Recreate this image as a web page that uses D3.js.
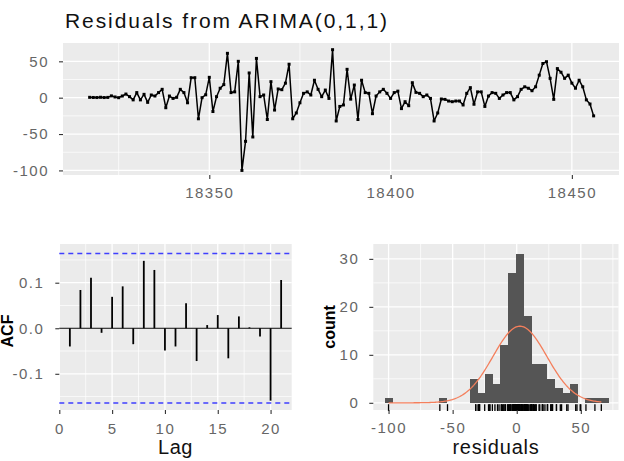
<!DOCTYPE html>
<html>
<head>
<meta charset="utf-8">
<script src="https://cdn.jsdelivr.net/npm/d3@7"></script>
<style>
body { margin: 0; background: #fff; }
svg { display: block; }
</style>
</head>
<body>
<div class="chart"></div>
<script>
// ---- data ----
const startDay = 18317;
const residuals = [
	0.5, 0.3, 0.2, 0.6, 0.2, 0.4, 2.5, 1, 0, 2.3,
	5, 1.4, -3, 7, -3, 4.6, -6.4, 3.7, 2.3, 7,
	11.5, -13.8, 2.3, -1, 0.5, 11.5, 7, -7, 27.5, 27.5,
	-29, 0, 4, 28, -19, 1.4, 13, 18, 61, 7,
	8, 50, -100, -60, 34, -54, 54, 1.4, 3.7, -30,
	22, -17, 12, 11, 20, 46, -29, -21, -7, 6,
	8, 3.7, 24, 11.5, 1.4, 10.5, -1, 66, -32, -12,
	-10, 39, -2, 17.4, -30, 24, 7, 6, -22, 2.3,
	8, 11.5, 6, -1, 7, 9, -15, -5.5, -11, 20.6,
	7.3, 6, 1.4, 3.7, -1, -32, -21, -1.8, -2.3, -4.6,
	-5.5, -4.6, -4.6, -10, 6, 13.8, -9, 8, 8, -12,
	2.3, 7, 6, -1, 3.7, 7, 7, -3, 1.4, 11.5,
	15, 13, 9.6, 15, 31, 47, 49.5, 26.6, -2.3, 40,
	35, 26.6, 31, 20, 13, 24, 15, -3, -8.7, -25
];
const acfLags = [1, 2, 3, 4, 5, 6, 7, 8, 9, 10, 11, 12, 13, 14, 15, 16, 17, 18, 19, 20, 21];
const acfValues = [-0.040, 0.084, 0.111, -0.010, 0.069, 0.092, -0.035, 0.148, 0.128, -0.049,
	-0.040, 0.055, -0.072, 0.007, 0.029, -0.066, 0.026, 0.002, -0.018, -0.159, 0.106];
const acfLimit = 0.164;
const binWidth = 6;
const binLower = [-102.5, -60.5, -36.5, -30.5, -24.5, -18.5, -12.5, -6.5, -0.5, 5.5,
	11.5, 17.5, 23.5, 29.5, 35.5, 41.5, 53.5, 59.5, 65.5];
const binCounts = [1, 1, 5, 2, 6, 4, 12, 27, 31, 18, 8, 8, 5, 3, 2, 4, 1, 1, 1];
const normMean = 2.5;
const normSd = 21;

const topXTicks = [18350, 18400, 18450];
const topXMinor = [18325, 18375, 18425];
const topYTicks = [-100, -50, 0, 50];
const topYMinor = [-75, -25, 25];
const acfXTicks = [0, 5, 10, 15, 20];
const acfXMinor = [2.5, 7.5, 12.5, 17.5];
const acfYTicks = [-0.1, 0, 0.1];
const acfYMinor = [-0.15, -0.05, 0.05, 0.15];
const histXTicks = [-100, -50, 0, 50];
const histXMinor = [-75, -25, 25, 75];
const histYTicks = [0, 10, 20, 30];
const histYMinor = [5, 15, 25];

// ---- layout ----
const W = 624, H = 461;
const font = "'Liberation Sans', Arial, sans-serif";
const tickColor = '#666';

const svg = d3.select('.chart')
	.append('svg')
		.attr('width', W)
		.attr('height', H)
		.style('font-family', font);

svg.append('rect').attr('width', W).attr('height', H).attr('fill', '#fff');

// grey panel + white grid, ggplot style
function panel(x, y, xMajor, xMinor, yMajor, yMinor) {
	const g = svg.append('g');
	const [x0, x1] = x.range();
	const [y1, y0] = y.range();
	g.append('rect')
		.attr('x', x0).attr('y', y0)
		.attr('width', x1 - x0).attr('height', y1 - y0)
		.attr('fill', '#ebebeb');
	g.selectAll('.vmin').data(xMinor).enter().append('line')
		.attr('x1', d => x(d)).attr('x2', d => x(d))
		.attr('y1', y0).attr('y2', y1)
		.attr('stroke', '#fff').attr('stroke-width', 0.7);
	g.selectAll('.hmin').data(yMinor).enter().append('line')
		.attr('x1', x0).attr('x2', x1)
		.attr('y1', d => y(d)).attr('y2', d => y(d))
		.attr('stroke', '#fff').attr('stroke-width', 0.7);
	g.selectAll('.vmaj').data(xMajor).enter().append('line')
		.attr('x1', d => x(d)).attr('x2', d => x(d))
		.attr('y1', y0).attr('y2', y1)
		.attr('stroke', '#fff').attr('stroke-width', 1.3);
	g.selectAll('.hmaj').data(yMajor).enter().append('line')
		.attr('x1', x0).attr('x2', x1)
		.attr('y1', d => y(d)).attr('y2', d => y(d))
		.attr('stroke', '#fff').attr('stroke-width', 1.3);
	return g;
}

function styleAxis(g) {
	g.select('.domain').remove();
	g.selectAll('.tick line').attr('stroke', '#333').attr('stroke-width', 1.1);
	g.selectAll('.tick text')
		.attr('fill', tickColor)
		.style('font-size', '15px')
		.style('letter-spacing', '1.5px')
		.style('font-family', font);
}

function axes(x, y, xTicks, yTicks, fmt, xPad, yPad) {
	const [y1] = y.range();
	const [x0] = x.range();
	svg.append('g')
		.attr('transform', `translate(0, ${y1})`)
		.call(d3.axisBottom(x).tickValues(xTicks).tickSize(4).tickSizeOuter(0)
			.tickPadding(xPad).tickFormat(d => String(d)))
		.call(styleAxis);
	svg.append('g')
		.attr('transform', `translate(${x0}, 0)`)
		.call(d3.axisLeft(y).tickValues(yTicks).tickSize(4).tickSizeOuter(0)
			.tickPadding(yPad).tickFormat(fmt))
		.call(styleAxis);
}

// ---- top: residual series ----
const xTop = d3.scaleLinear().domain([18309.65, 18463.0]).range([63, 619]);
const yTop = d3.scaleLinear().domain([-106.3, 75.2]).range([175, 43]);
panel(xTop, yTop, topXTicks, topXMinor, topYTicks, topYMinor);

const line = d3.line()
	.x((d, i) => xTop(startDay + i))
	.y(d => yTop(d));

svg.append('path')
	.datum(residuals)
	.attr('d', line)
	.attr('fill', 'none')
	.attr('stroke', '#000')
	.attr('stroke-width', 1.5)
	.attr('stroke-linejoin', 'round');

svg.selectAll('.pt')
	.data(residuals)
	.enter()
	.append('rect')
	.attr('x', (d, i) => xTop(startDay + i) - 1.5)
	.attr('y', d => yTop(d) - 1.5)
	.attr('width', 3)
	.attr('height', 3)
	.attr('fill', '#000');

axes(xTop, yTop, topXTicks, topYTicks, d => String(d), 8, 10);

svg.append('text')
	.attr('x', 65)
	.attr('y', 28)
	.attr('textLength', 322)
	.attr('lengthAdjust', 'spacing')
	.style('font-size', '21px')
	.attr('fill', '#111')
	.text('Residuals from ARIMA(0,1,1)');

// ---- bottom left: ACF ----
const xAcf = d3.scaleLinear().domain([0, 22]).range([59.3, 291.7]);
const yAcf = d3.scaleLinear().domain([-0.1795, 0.185]).range([410, 244]);
panel(xAcf, yAcf, acfXTicks, acfXMinor, acfYTicks, acfYMinor);

svg.append('line')
	.attr('x1', xAcf.range()[0]).attr('x2', xAcf.range()[1])
	.attr('y1', yAcf(0)).attr('y2', yAcf(0))
	.attr('stroke', '#000').attr('stroke-width', 1.2);

svg.selectAll('.acfbar')
	.data(acfLags)
	.enter()
	.append('line')
	.attr('x1', d => xAcf(d)).attr('x2', d => xAcf(d))
	.attr('y1', yAcf(0))
	.attr('y2', (d, i) => yAcf(acfValues[i]))
	.attr('stroke', '#000')
	.attr('stroke-width', 1.8);

svg.selectAll('.ci')
	.data([acfLimit, -acfLimit])
	.enter()
	.append('line')
	.attr('x1', xAcf.range()[0]).attr('x2', xAcf.range()[1])
	.attr('y1', d => yAcf(d)).attr('y2', d => yAcf(d))
	.attr('stroke', '#3f3fff')
	.attr('stroke-width', 1.5)
	.attr('stroke-dasharray', '5,4');

axes(xAcf, yAcf, acfXTicks, acfYTicks, d => d.toFixed(1), 9, 11);

svg.append('text')
	.attr('x', 175.5).attr('y', 454)
	.attr('text-anchor', 'middle')
	.style('font-size', '20px')
	.style('letter-spacing', '0.5px')
	.attr('fill', '#111')
	.text('Lag');

svg.append('text')
	.attr('transform', 'translate(13, 331) rotate(-90)')
	.attr('text-anchor', 'middle')
	.style('font-size', '16px')
	.style('font-weight', 'bold')
	.attr('fill', '#000')
	.text('ACF');

// ---- bottom right: histogram ----
const xHist = d3.scaleLinear().domain([-111.9, 79.4]).range([373.3, 618.5]);
const yHist = d3.scaleLinear().domain([-1.5, 33.1]).range([410, 244]);
panel(xHist, yHist, histXTicks, histXMinor, histYTicks, histYMinor);

svg.selectAll('.bar')
	.data(binLower)
	.enter()
	.append('rect')
	.attr('x', d => xHist(d) - 0.3)
	.attr('width', d => xHist(d + binWidth) - xHist(d) + 0.6)
	.attr('y', (d, i) => yHist(binCounts[i]))
	.attr('height', (d, i) => yHist(0) - yHist(binCounts[i]))
	.attr('fill', '#555')
	.attr('shape-rendering', 'crispEdges');

// rug
const rugLen = 0.035 * (yHist.range()[0] - yHist.range()[1]);
svg.selectAll('.rug')
	.data(residuals)
	.enter()
	.append('line')
	.attr('x1', d => xHist(d)).attr('x2', d => xHist(d))
	.attr('y1', yHist.range()[0] - rugLen)
	.attr('y2', yHist.range()[0] + 1)
	.attr('stroke', '#000')
	.attr('stroke-width', 1.3);

// fitted normal curve, scaled to counts
const [rMin, rMax] = d3.extent(residuals);
const curveX = d3.range(0, 201).map(i => rMin + (rMax - rMin) * i / 200);
const dens = v => residuals.length * binWidth *
	Math.exp(-0.5 * ((v - normMean) / normSd) ** 2) / (normSd * Math.sqrt(2 * Math.PI));

svg.append('path')
	.datum(curveX)
	.attr('d', d3.line().x(d => xHist(d)).y(d => yHist(dens(d))))
	.attr('fill', 'none')
	.attr('stroke', '#f47f5c')
	.attr('stroke-width', 1.3);

axes(xHist, yHist, histXTicks, histYTicks, d => String(d), 8, 10);

svg.append('text')
	.attr('x', 496).attr('y', 454)
	.attr('text-anchor', 'middle')
	.style('font-size', '20px')
	.style('letter-spacing', '0.8px')
	.attr('fill', '#111')
	.text('residuals');

svg.append('text')
	.attr('transform', 'translate(335, 327) rotate(-90)')
	.attr('text-anchor', 'middle')
	.style('font-size', '16px')
	.style('font-weight', 'bold')
	.attr('fill', '#000')
	.text('count');
</script>
</body>
</html>
